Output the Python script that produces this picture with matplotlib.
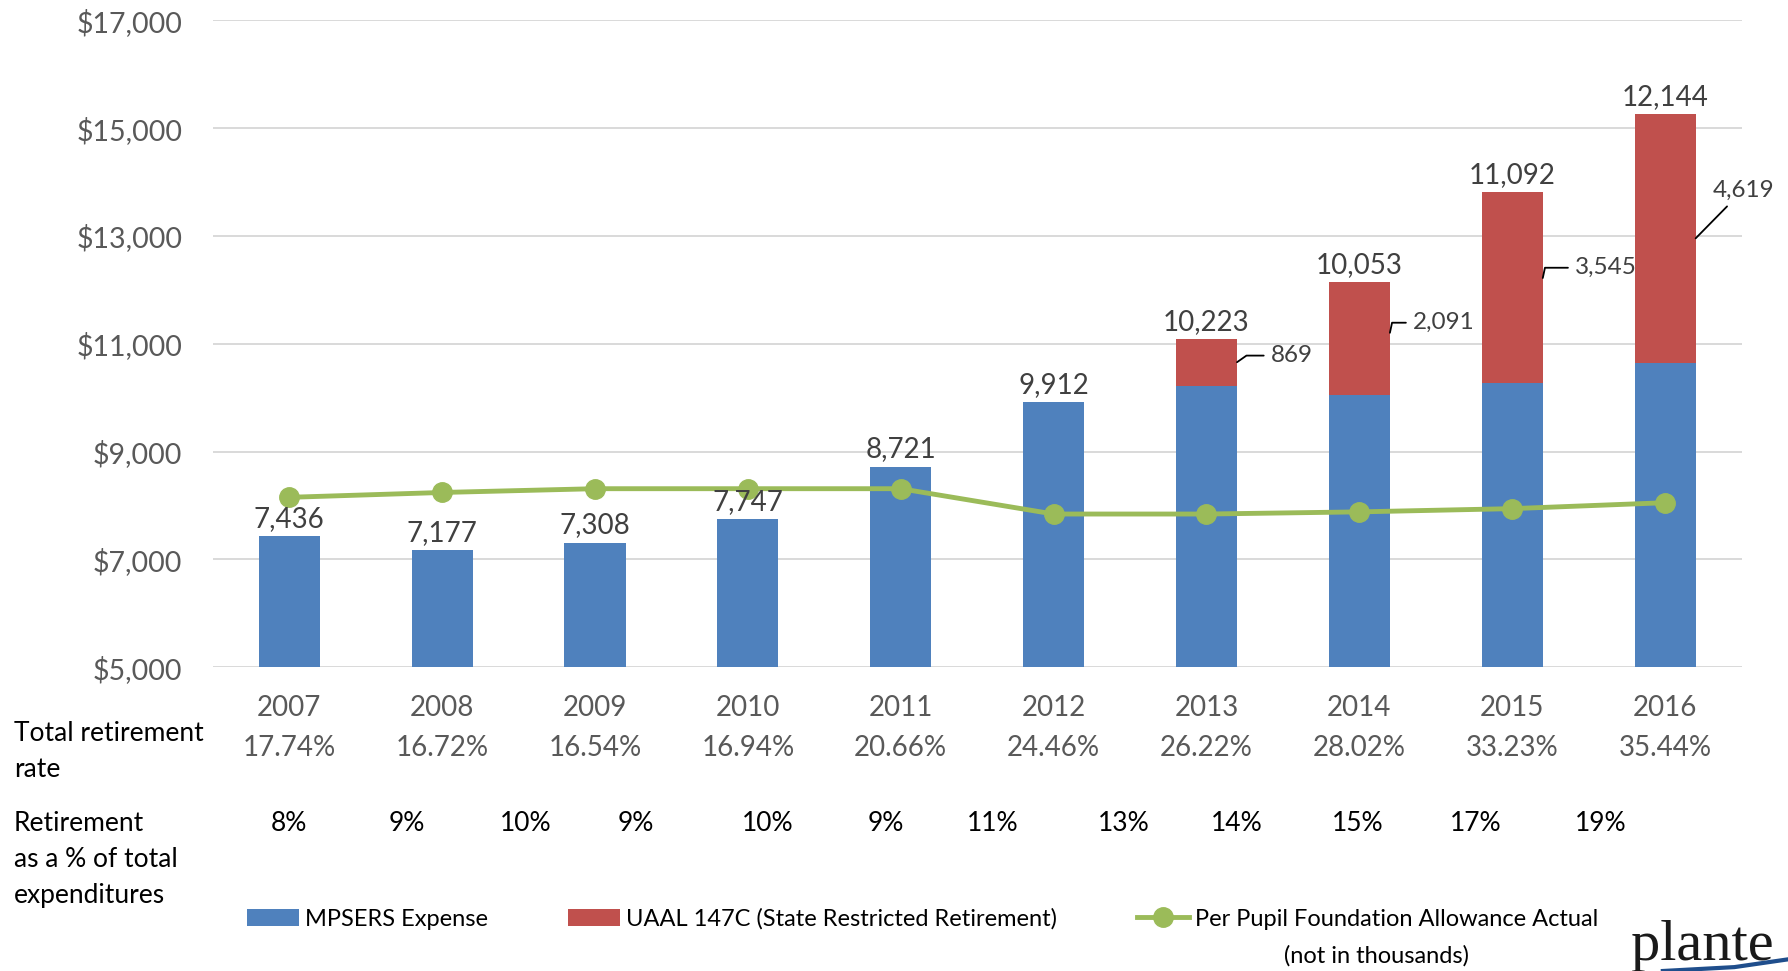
"""MPSERS retirement expense vs. per pupil foundation allowance, 2007-2016."""

import matplotlib
matplotlib.use("Agg")
import matplotlib.pyplot as plt
from matplotlib.transforms import blended_transform_factory

plt.rcParams.update({"font.family": ["Lato", "DejaVu Sans"], "font.size": 18})

BLUE = "#4F81BD"; RED = "#C0504D"; GREEN = "#9BBB59"
GRID = "#D9D9D9"; TICK = "#595959"; LABEL = "#404040"

years = ["2007", "2008", "2009", "2010", "2011", "2012", "2013", "2014", "2015", "2016"]
total_rate = ["17.74%", "16.72%", "16.54%", "16.94%", "20.66%", "24.46%", "26.22%",
              "28.02%", "33.23%", "35.44%"]
mpsers = [7436, 7177, 7308, 7747, 8721, 9912, 10223, 10053, 10270, 10646]
uaal = [0, 0, 0, 0, 0, 0, 869, 2091, 3545, 4619]
foundation = [8150, 8240, 8310, 8310, 8310, 7840, 7840, 7880, 7940, 8050]
top_labels = ["7,436", "7,177", "7,308", "7,747", "8,721", "9,912", "10,223", "10,053",
              "11,092", "12,144"]
uaal_labels = ["869", "2,091", "3,545", "4,619"]
pct_expenditures = ["8%", "9%", "10%", "9%", "10%", "9%", "11%", "13%", "14%", "15%",
                    "17%", "19%"]

# layout (category units) for the free-floating % row and the leader labels
pct_exp_x = [0.0, 0.77, 1.55, 2.27, 3.13, 3.90, 4.60, 5.46, 6.20, 6.99, 7.76, 8.58]
uaal_text_xy = [(6.42, 10780), (7.35, 11390), (8.41, 12410), (9.51, 13850)]
uaal_conn = ["angle,angleA=0,angleB=35", "angle,angleA=0,angleB=78",
             "angle,angleA=0,angleB=78", "arc3"]


def main():
    fig = plt.figure(figsize=(17.88, 9.71), dpi=100)
    ax = fig.add_axes([0.119, 0.313, 0.855, 0.666])

    x = list(range(len(years)))
    w = 0.4
    b1 = ax.bar(x, mpsers, w, color=BLUE, zorder=2)
    b2 = ax.bar(x, uaal, w, bottom=mpsers, color=RED, zorder=2)
    ln, = ax.plot(x, foundation, color=GREEN, lw=3.5, marker="o", ms=14, zorder=3)

    ax.set_xlim(-0.5, 9.5)
    ax.set_ylim(5000, 17000)
    ax.set_yticks(range(5000, 17001, 2000))
    ax.set_yticklabels([f"${v:,}" for v in range(5000, 17001, 2000)],
                       color=TICK, fontsize=20.5)
    ax.set_xticks([])
    ax.tick_params(axis="y", length=0, pad=22)
    ax.grid(axis="y", color=GRID, lw=1.4, zorder=0)
    for s in ax.spines.values():
        s.set_visible(False)

    # totals above the stacks
    for i in x:
        ax.annotate(top_labels[i], (i, mpsers[i] + uaal[i]), xytext=(0, 3),
                    textcoords="offset points", ha="center", va="bottom",
                    color=LABEL, fontsize=20, zorder=4)

    # UAAL labels with leader lines
    for k, i in enumerate(range(6, 10)):
        tx, ty = uaal_text_xy[k]
        frac = 0.5 if k in (0, 3) else 0.55
        xy = (i + w / 2, mpsers[i] + uaal[i] * frac)
        ha = "center" if k == 3 else "left"
        ax.annotate(uaal_labels[k], xy, xytext=(tx, ty), ha=ha, va="center",
                    color=LABEL, fontsize=17.5, annotation_clip=False,
                    arrowprops=dict(arrowstyle="-", color="black", lw=1.3,
                                    connectionstyle=uaal_conn[k],
                                    shrinkA=3, shrinkB=0))

    # rows under the axis
    tr = blended_transform_factory(ax.transData, ax.transAxes)
    for i in x:
        ax.text(i, -0.063, years[i], transform=tr, ha="center", va="center",
                color=TICK, fontsize=20)
        ax.text(i, -0.125, total_rate[i], transform=tr, ha="center", va="center",
                color=TICK, fontsize=20)
    trf = blended_transform_factory(ax.transData, fig.transFigure)
    for px, lab in zip(pct_exp_x, pct_expenditures):
        ax.text(px, 0.152, lab, transform=trf, ha="center", va="center",
                color="black", fontsize=19)

    fig.text(0.0077, 0.226, "Total retirement\nrate", ha="left", va="center",
             fontsize=19, linespacing=1.55)
    fig.text(0.0077, 0.115, "Retirement\nas a % of total\nexpenditures", ha="left",
             va="center", fontsize=19, linespacing=1.55)

    fig.legend([b1, b2, ln],
               ["MPSERS Expense", "UAAL 147C (State Restricted Retirement)",
                "Per Pupil Foundation Allowance Actual"],
               loc="center", bbox_to_anchor=(0.516, 0.0535), ncol=3,
               frameon=False, fontsize=17, handlelength=2.2, handleheight=0.75,
               columnspacing=3.4, handletextpad=0.25)
    fig.text(0.770, 0.0155, "(not in thousands)", ha="center", va="center", fontsize=17)

    # firm logo, cut by the page edge
    fig.text(0.912, 0.011, "plante", family="Liberation Serif", fontsize=42,
             ha="left", va="baseline", color="#1A1A1A")
    fig.add_artist(plt.Line2D([0.93, 0.97, 1.0], [0.0, 0.004, 0.012],
                              transform=fig.transFigure, color="#1F4E8C", lw=3))

    fig.savefig("out.png", dpi=100)
    plt.close(fig)


if __name__ == "__main__":
    main()
